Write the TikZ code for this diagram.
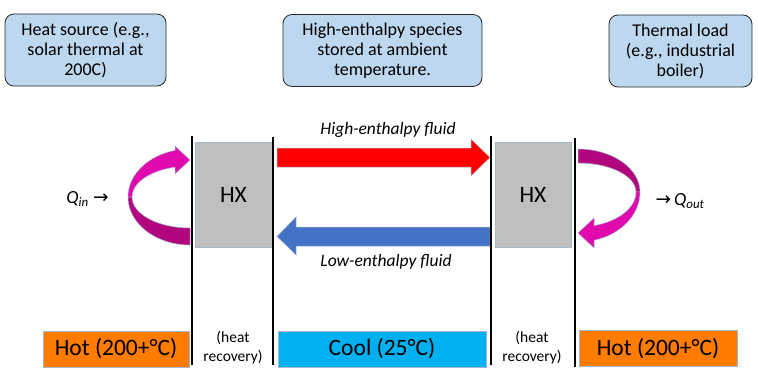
\documentclass[tikz,border=0pt]{standalone}
\usepackage{fontspec}
\setmainfont{Carlito}
\newfontfamily\arrowfont{DejaVu Sans}
\definecolor{InfoBlue}{HTML}{BDD7EE}
\definecolor{HXGray}{HTML}{BFBFBF}
\definecolor{HotOrange}{HTML}{FF7C00}
\definecolor{CoolCyan}{HTML}{00B0F0}
\definecolor{FlowRed}{HTML}{FF0000}
\definecolor{FlowBlue}{HTML}{4472C4}
\definecolor{Outline}{HTML}{A6B6CF}
\definecolor{MagentaLight}{HTML}{E10AAF}
\definecolor{MagentaDark}{HTML}{B2067F}
\tikzset{
  infobox/.style={
    rounded corners=9pt, draw=black!85, line width=0.8pt, fill=InfoBlue,
    minimum width=161pt, minimum height=72pt, inner sep=0pt, align=center,
    font=\fontsize{18}{20}\selectfont
  },
  hxbox/.style={
    draw=Outline, line width=0.6pt, fill=HXGray,
    minimum width=77pt, minimum height=105pt, font=\fontsize{23.5}{28}\selectfont
  },
  tempbox/.style={
    draw=Outline, line width=0.6pt, minimum height=36pt, inner sep=0pt,
    font=\fontsize{23.5}{28}\selectfont
  },
  divider/.style={line width=2pt, draw=black},
  blockflow/.style={draw=Outline, line width=0.5pt},
  flowlabel/.style={inner sep=0pt, font=\fontsize{17.5}{21}\selectfont\itshape},
  smalllabel/.style={inner sep=0pt, align=center, font=\fontsize{15.5}{19}\selectfont},
  heatlabel/.style={inner sep=0pt, font=\fontsize{18.5}{22}\selectfont}
}

\begin{document}
\begin{tikzpicture}[x=1pt,y=-1pt]
    \useasboundingbox (0,0) rectangle (758,381);

    \node[infobox] (source) at (85.5,50) {Heat source (e.g.,\\solar thermal at\\200C)};
    \node[infobox,minimum width=199pt] (storage) at (382.5,50.5)
      {High-enthalpy species\\stored at ambient\\temperature.};
    \node[infobox,minimum width=143pt] (load) at (680.5,51)
      {Thermal load\\(e.g., industrial\\boiler)};

    \node[hxbox] (hxleft) at (233.5,194.5) {HX};
    \node[hxbox,minimum width=76pt] (hxright) at (533,194.5) {HX};

    \fill[FlowRed,blockflow] (277,148) -- (471,148) -- (471,139) -- (490,157.5)
      -- (471,176) -- (471,167) -- (277,167) -- cycle;
    \fill[FlowBlue,blockflow] (490,227) -- (296,227) -- (296,217) -- (277,236.5)
      -- (296,255) -- (296,246) -- (490,246) -- cycle;
    \node[flowlabel] (hotlabel) at (388,130) {High-enthalpy fluid};
    \node[flowlabel] (coldlabel) at (386,262) {Low-enthalpy fluid};

    \fill[MagentaLight,blockflow] (128,197)
      arc[start angle=180,end angle=256,x radius=62,y radius=48]
      -- (175,146) -- (190,160) -- (175,174) -- (175,167.1)
      arc[start angle=255,end angle=180,x radius=58,y radius=31] -- cycle;
    \fill[MagentaDark,blockflow] (128,197)
      arc[start angle=180,end angle=90,x radius=62,y radius=48]
      -- (190,228)
      arc[start angle=90,end angle=180,x radius=58,y radius=31] -- cycle;

    \fill[MagentaDark,blockflow] (578,149)
      arc[start angle=270,end angle=360,x radius=62,y radius=43]
      -- (636,192)
      arc[start angle=360,end angle=270,x radius=58,y radius=29] -- cycle;
    \fill[MagentaLight,blockflow] (640,192)
      arc[start angle=0,end angle=75,x radius=62,y radius=50]
      -- (594,248) -- (578,233) -- (594,218) -- (594,225.6)
      arc[start angle=74,end angle=0,x radius=58,y radius=35] -- cycle;

    \node[heatlabel] (qin) at (87.5,199) {\itshape Q\textsubscript{in} {\upshape\arrowfont →}};
    \node[heatlabel] (qout) at (680,201) {{\arrowfont →}\,\itshape Q\textsubscript{out}};

    \coordinate (div1top) at (192,136);
    \coordinate (div1bot) at (192,365);
    \coordinate (div2top) at (273,137);
    \coordinate (div2bot) at (273,365);
    \coordinate (div3top) at (491,136);
    \coordinate (div3bot) at (491,365);
    \coordinate (div4top) at (575,138);
    \coordinate (div4bot) at (575,367);
    \draw[divider] (div1top) -- (div1bot);
    \draw[divider] (div2top) -- (div2bot);
    \draw[divider] (div3top) -- (div3bot);
    \draw[divider] (div4top) -- (div4bot);

    \node[tempbox,fill=HotOrange,minimum width=146pt] (hotin) at (116,349) {Hot (200+°C)};
    \node[tempbox,fill=CoolCyan,minimum width=208pt] (cool) at (382,349) {Cool (25°C)};
    \node[tempbox,fill=HotOrange,minimum width=158pt] (hotout) at (658,348.5) {Hot (200+°C)};
    \node[smalllabel] (recleft) at (233,347.5) {(heat\\recovery)};
    \node[smalllabel] (recright) at (532,347.5) {(heat\\recovery)};
  \end{tikzpicture}
\end{document}
